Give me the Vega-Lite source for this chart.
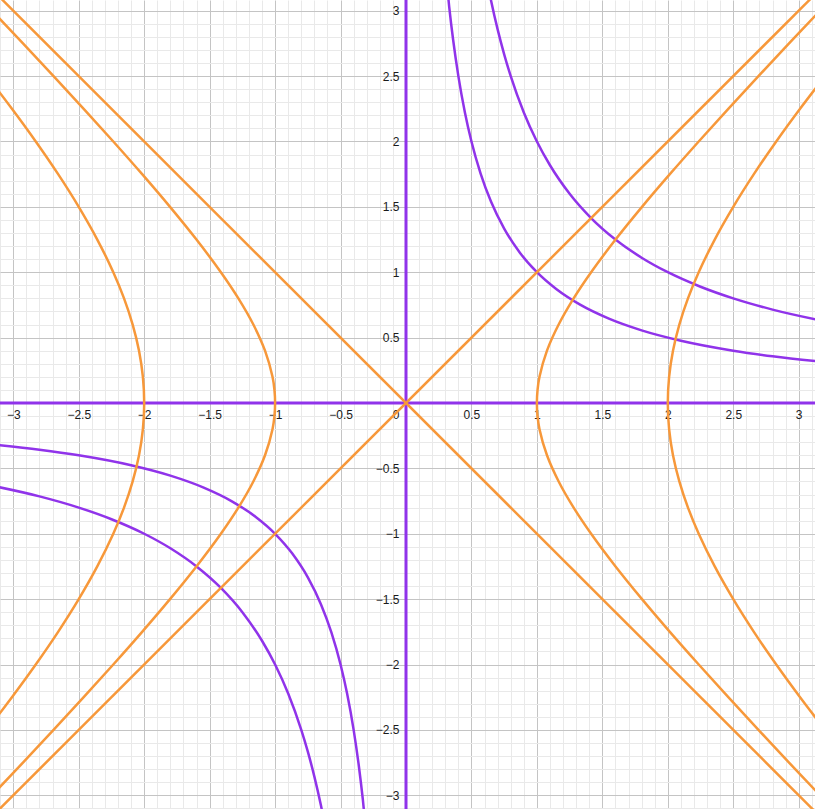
{
  "$schema": "https://vega.github.io/schema/vega-lite/v6.json",
  "width": 815,
  "height": 809,
  "padding": 0,
  "autosize": "none",
  "background": "white",
  "config": {"view": {"stroke": null}},
  "datasets": {
    "axes": [{"v": 0}],
    "purple": [
      {"s": "xy1a", "x": 0.3, "y": 3.3333}, {"s": "xy1a", "x": 0.33, "y": 3.0303}, {"s": "xy1a", "x": 0.36, "y": 2.7778}, {"s": "xy1a", "x": 0.4, "y": 2.5}, {"s": "xy1a", "x": 0.45, "y": 2.2222}, {"s": "xy1a", "x": 0.5, "y": 2}, {"s": "xy1a", "x": 0.57, "y": 1.7544}, {"s": "xy1a", "x": 0.65, "y": 1.5385}, {"s": "xy1a", "x": 0.75, "y": 1.3333}, {"s": "xy1a", "x": 0.87, "y": 1.1494}, {"s": "xy1a", "x": 1, "y": 1}, {"s": "xy1a", "x": 1.15, "y": 0.8696}, {"s": "xy1a", "x": 1.33, "y": 0.7519}, {"s": "xy1a", "x": 1.55, "y": 0.6452}, {"s": "xy1a", "x": 1.8, "y": 0.5556}, {"s": "xy1a", "x": 2.1, "y": 0.4762}, {"s": "xy1a", "x": 2.5, "y": 0.4}, {"s": "xy1a", "x": 2.8, "y": 0.3571}, {"s": "xy1a", "x": 3.2, "y": 0.3125},
      {"s": "xy1b", "x": -0.3, "y": -3.3333}, {"s": "xy1b", "x": -0.33, "y": -3.0303}, {"s": "xy1b", "x": -0.36, "y": -2.7778}, {"s": "xy1b", "x": -0.4, "y": -2.5}, {"s": "xy1b", "x": -0.45, "y": -2.2222}, {"s": "xy1b", "x": -0.5, "y": -2}, {"s": "xy1b", "x": -0.57, "y": -1.7544}, {"s": "xy1b", "x": -0.65, "y": -1.5385}, {"s": "xy1b", "x": -0.75, "y": -1.3333}, {"s": "xy1b", "x": -0.87, "y": -1.1494}, {"s": "xy1b", "x": -1, "y": -1}, {"s": "xy1b", "x": -1.15, "y": -0.8696}, {"s": "xy1b", "x": -1.33, "y": -0.7519}, {"s": "xy1b", "x": -1.55, "y": -0.6452}, {"s": "xy1b", "x": -1.8, "y": -0.5556}, {"s": "xy1b", "x": -2.1, "y": -0.4762}, {"s": "xy1b", "x": -2.5, "y": -0.4}, {"s": "xy1b", "x": -2.8, "y": -0.3571}, {"s": "xy1b", "x": -3.2, "y": -0.3125},
      {"s": "xy2a", "x": 0.6, "y": 3.3333}, {"s": "xy2a", "x": 0.62, "y": 3.2258}, {"s": "xy2a", "x": 0.65, "y": 3.0769}, {"s": "xy2a", "x": 0.7, "y": 2.8571}, {"s": "xy2a", "x": 0.75, "y": 2.6667}, {"s": "xy2a", "x": 0.8, "y": 2.5}, {"s": "xy2a", "x": 0.9, "y": 2.2222}, {"s": "xy2a", "x": 1, "y": 2}, {"s": "xy2a", "x": 1.1, "y": 1.8182}, {"s": "xy2a", "x": 1.25, "y": 1.6}, {"s": "xy2a", "x": 1.414, "y": 1.4144}, {"s": "xy2a", "x": 1.6, "y": 1.25}, {"s": "xy2a", "x": 1.8, "y": 1.1111}, {"s": "xy2a", "x": 2, "y": 1}, {"s": "xy2a", "x": 2.25, "y": 0.8889}, {"s": "xy2a", "x": 2.5, "y": 0.8}, {"s": "xy2a", "x": 2.8, "y": 0.7143}, {"s": "xy2a", "x": 3.2, "y": 0.625},
      {"s": "xy2b", "x": -0.6, "y": -3.3333}, {"s": "xy2b", "x": -0.62, "y": -3.2258}, {"s": "xy2b", "x": -0.65, "y": -3.0769}, {"s": "xy2b", "x": -0.7, "y": -2.8571}, {"s": "xy2b", "x": -0.75, "y": -2.6667}, {"s": "xy2b", "x": -0.8, "y": -2.5}, {"s": "xy2b", "x": -0.9, "y": -2.2222}, {"s": "xy2b", "x": -1, "y": -2}, {"s": "xy2b", "x": -1.1, "y": -1.8182}, {"s": "xy2b", "x": -1.25, "y": -1.6}, {"s": "xy2b", "x": -1.414, "y": -1.4144}, {"s": "xy2b", "x": -1.6, "y": -1.25}, {"s": "xy2b", "x": -1.8, "y": -1.1111}, {"s": "xy2b", "x": -2, "y": -1}, {"s": "xy2b", "x": -2.25, "y": -0.8889}, {"s": "xy2b", "x": -2.5, "y": -0.8}, {"s": "xy2b", "x": -2.8, "y": -0.7143}, {"s": "xy2b", "x": -3.2, "y": -0.625}
    ],
    "orange": [
      {"s": "l1", "x": -3.3, "y": -3.3}, {"s": "l1", "x": 3.3, "y": 3.3},
      {"s": "l2", "x": 3.3, "y": -3.3}, {"s": "l2", "x": -3.3, "y": 3.3},
      {"s": "h1r", "x": 3.3526, "y": -3.2}, {"s": "h1r", "x": 3.1623, "y": -3}, {"s": "h1r", "x": 2.9262, "y": -2.75}, {"s": "h1r", "x": 2.6926, "y": -2.5}, {"s": "h1r", "x": 2.4622, "y": -2.25}, {"s": "h1r", "x": 2.2361, "y": -2}, {"s": "h1r", "x": 2.0156, "y": -1.75}, {"s": "h1r", "x": 1.8028, "y": -1.5}, {"s": "h1r", "x": 1.6008, "y": -1.25}, {"s": "h1r", "x": 1.4142, "y": -1}, {"s": "h1r", "x": 1.2806, "y": -0.8}, {"s": "h1r", "x": 1.1662, "y": -0.6}, {"s": "h1r", "x": 1.077, "y": -0.4}, {"s": "h1r", "x": 1.0198, "y": -0.2}, {"s": "h1r", "x": 1.005, "y": -0.1}, {"s": "h1r", "x": 1, "y": 0}, {"s": "h1r", "x": 1.005, "y": 0.1}, {"s": "h1r", "x": 1.0198, "y": 0.2}, {"s": "h1r", "x": 1.077, "y": 0.4}, {"s": "h1r", "x": 1.1662, "y": 0.6}, {"s": "h1r", "x": 1.2806, "y": 0.8}, {"s": "h1r", "x": 1.4142, "y": 1}, {"s": "h1r", "x": 1.6008, "y": 1.25}, {"s": "h1r", "x": 1.8028, "y": 1.5}, {"s": "h1r", "x": 2.0156, "y": 1.75}, {"s": "h1r", "x": 2.2361, "y": 2}, {"s": "h1r", "x": 2.4622, "y": 2.25}, {"s": "h1r", "x": 2.6926, "y": 2.5}, {"s": "h1r", "x": 2.9262, "y": 2.75}, {"s": "h1r", "x": 3.1623, "y": 3}, {"s": "h1r", "x": 3.3526, "y": 3.2},
      {"s": "h1l", "x": -3.3526, "y": -3.2}, {"s": "h1l", "x": -3.1623, "y": -3}, {"s": "h1l", "x": -2.9262, "y": -2.75}, {"s": "h1l", "x": -2.6926, "y": -2.5}, {"s": "h1l", "x": -2.4622, "y": -2.25}, {"s": "h1l", "x": -2.2361, "y": -2}, {"s": "h1l", "x": -2.0156, "y": -1.75}, {"s": "h1l", "x": -1.8028, "y": -1.5}, {"s": "h1l", "x": -1.6008, "y": -1.25}, {"s": "h1l", "x": -1.4142, "y": -1}, {"s": "h1l", "x": -1.2806, "y": -0.8}, {"s": "h1l", "x": -1.1662, "y": -0.6}, {"s": "h1l", "x": -1.077, "y": -0.4}, {"s": "h1l", "x": -1.0198, "y": -0.2}, {"s": "h1l", "x": -1.005, "y": -0.1}, {"s": "h1l", "x": -1, "y": 0}, {"s": "h1l", "x": -1.005, "y": 0.1}, {"s": "h1l", "x": -1.0198, "y": 0.2}, {"s": "h1l", "x": -1.077, "y": 0.4}, {"s": "h1l", "x": -1.1662, "y": 0.6}, {"s": "h1l", "x": -1.2806, "y": 0.8}, {"s": "h1l", "x": -1.4142, "y": 1}, {"s": "h1l", "x": -1.6008, "y": 1.25}, {"s": "h1l", "x": -1.8028, "y": 1.5}, {"s": "h1l", "x": -2.0156, "y": 1.75}, {"s": "h1l", "x": -2.2361, "y": 2}, {"s": "h1l", "x": -2.4622, "y": 2.25}, {"s": "h1l", "x": -2.6926, "y": 2.5}, {"s": "h1l", "x": -2.9262, "y": 2.75}, {"s": "h1l", "x": -3.1623, "y": 3}, {"s": "h1l", "x": -3.3526, "y": 3.2},
      {"s": "h4r", "x": 3.2802, "y": -2.6}, {"s": "h4r", "x": 3.2016, "y": -2.5}, {"s": "h4r", "x": 3.0104, "y": -2.25}, {"s": "h4r", "x": 2.8284, "y": -2}, {"s": "h4r", "x": 2.6575, "y": -1.75}, {"s": "h4r", "x": 2.5, "y": -1.5}, {"s": "h4r", "x": 2.3585, "y": -1.25}, {"s": "h4r", "x": 2.2361, "y": -1}, {"s": "h4r", "x": 2.1541, "y": -0.8}, {"s": "h4r", "x": 2.0881, "y": -0.6}, {"s": "h4r", "x": 2.0396, "y": -0.4}, {"s": "h4r", "x": 2.01, "y": -0.2}, {"s": "h4r", "x": 2, "y": 0}, {"s": "h4r", "x": 2.01, "y": 0.2}, {"s": "h4r", "x": 2.0396, "y": 0.4}, {"s": "h4r", "x": 2.0881, "y": 0.6}, {"s": "h4r", "x": 2.1541, "y": 0.8}, {"s": "h4r", "x": 2.2361, "y": 1}, {"s": "h4r", "x": 2.3585, "y": 1.25}, {"s": "h4r", "x": 2.5, "y": 1.5}, {"s": "h4r", "x": 2.6575, "y": 1.75}, {"s": "h4r", "x": 2.8284, "y": 2}, {"s": "h4r", "x": 3.0104, "y": 2.25}, {"s": "h4r", "x": 3.2016, "y": 2.5}, {"s": "h4r", "x": 3.2802, "y": 2.6},
      {"s": "h4l", "x": -3.2802, "y": -2.6}, {"s": "h4l", "x": -3.2016, "y": -2.5}, {"s": "h4l", "x": -3.0104, "y": -2.25}, {"s": "h4l", "x": -2.8284, "y": -2}, {"s": "h4l", "x": -2.6575, "y": -1.75}, {"s": "h4l", "x": -2.5, "y": -1.5}, {"s": "h4l", "x": -2.3585, "y": -1.25}, {"s": "h4l", "x": -2.2361, "y": -1}, {"s": "h4l", "x": -2.1541, "y": -0.8}, {"s": "h4l", "x": -2.0881, "y": -0.6}, {"s": "h4l", "x": -2.0396, "y": -0.4}, {"s": "h4l", "x": -2.01, "y": -0.2}, {"s": "h4l", "x": -2, "y": 0}, {"s": "h4l", "x": -2.01, "y": 0.2}, {"s": "h4l", "x": -2.0396, "y": 0.4}, {"s": "h4l", "x": -2.0881, "y": 0.6}, {"s": "h4l", "x": -2.1541, "y": 0.8}, {"s": "h4l", "x": -2.2361, "y": 1}, {"s": "h4l", "x": -2.3585, "y": 1.25}, {"s": "h4l", "x": -2.5, "y": 1.5}, {"s": "h4l", "x": -2.6575, "y": 1.75}, {"s": "h4l", "x": -2.8284, "y": 2}, {"s": "h4l", "x": -3.0104, "y": 2.25}, {"s": "h4l", "x": -3.2016, "y": 2.5}, {"s": "h4l", "x": -3.2802, "y": 2.6}
    ]
  },
  "resolve": {"axis": {"x": "independent", "y": "independent"}},
  "layer": [
    {
      "data": {"name": "axes"},
      "mark": {"type": "rule", "strokeWidth": 3, "color": "#9033ea"},
      "encoding": {
        "x": {"field": "v", "type": "quantitative", "scale": {"domain": [-3.1016, 3.1245], "nice": false, "zero": false},
          "axis": {"orient": "bottom", "offset": -406, "title": null, "ticks": false, "domain": false, "grid": true, "gridColor": "#c4c4c4", "gridWidth": 1, "zindex": 0,
            "values": [-3,-2.5,-2,-1.5,-1,-0.5,0,0.5,1,1.5,2,2.5,3],
            "format": "~g", "labelExpr": "replace(datum.label, '-', '\u2212')",
            "labelFont": "Liberation Sans", "labelFontSize": 12, "labelColor": "#1a1a1a", "labelPadding": 6,
            "labelOverlap": false, "labelFlush": false,
            "labelAlign": {"condition": {"test": "datum.value === 0", "value": "right"}, "value": "center"},
            "labelOffset": {"condition": {"test": "datum.value === 0", "value": -7}, "value": 0}}}
      }
    },
    {
      "data": {"name": "axes"},
      "mark": {"type": "rule", "strokeWidth": 3, "color": "#9033ea"},
      "encoding": {
        "y": {"field": "v", "type": "quantitative", "scale": {"domain": [-3.105, 3.082], "nice": false, "zero": false},
          "axis": {"orient": "left", "offset": -406, "title": null, "ticks": false, "domain": false, "grid": true, "gridColor": "#c4c4c4", "gridWidth": 1, "zindex": 0,
            "values": [-3,-2.5,-2,-1.5,-1,-0.5,0.5,1,1.5,2,2.5,3],
            "format": "~g", "labelExpr": "replace(datum.label, '-', '\u2212')",
            "labelFont": "Liberation Sans", "labelFontSize": 12, "labelColor": "#1a1a1a", "labelPadding": 7,
            "labelOverlap": false, "labelFlush": false}}
      }
    },
    {
      "data": {"name": "purple"},
      "mark": {"type": "line", "clip": true, "interpolate": "monotone", "strokeWidth": 2.5, "color": "#9033ea"},
      "encoding": {
        "x": {"field": "x", "type": "quantitative", "scale": {"domain": [-3.1016, 3.1245], "nice": false, "zero": false},
          "axis": {"orient": "bottom", "title": null, "labels": false, "ticks": false, "domain": false, "grid": true, "gridColor": "#e9e9e9", "gridWidth": 1, "zindex": 0,
            "values": [-3.1,-2.9,-2.8,-2.7,-2.6,-2.4,-2.3,-2.2,-2.1,-1.9,-1.8,-1.7,-1.6,-1.4,-1.3,-1.2,-1.1,-0.9,-0.8,-0.7,-0.6,-0.4,-0.3,-0.2,-0.1,0.1,0.2,0.3,0.4,0.6,0.7,0.8,0.9,1.1,1.2,1.3,1.4,1.6,1.7,1.8,1.9,2.1,2.2,2.3,2.4,2.6,2.7,2.8,2.9,3.1]}},
        "y": {"field": "y", "type": "quantitative", "scale": {"domain": [-3.105, 3.082], "nice": false, "zero": false},
          "axis": {"orient": "left", "title": null, "labels": false, "ticks": false, "domain": false, "grid": true, "gridColor": "#e9e9e9", "gridWidth": 1, "zindex": 0,
            "values": [-3.1,-2.9,-2.8,-2.7,-2.6,-2.4,-2.3,-2.2,-2.1,-1.9,-1.8,-1.7,-1.6,-1.4,-1.3,-1.2,-1.1,-0.9,-0.8,-0.7,-0.6,-0.4,-0.3,-0.2,-0.1,0.1,0.2,0.3,0.4,0.6,0.7,0.8,0.9,1.1,1.2,1.3,1.4,1.6,1.7,1.8,1.9,2.1,2.2,2.3,2.4,2.6,2.7,2.8,2.9,3.1]}},
        "detail": {"field": "s", "type": "nominal"},
        "order": {"field": "x", "type": "quantitative"}
      }
    },
    {
      "data": {"name": "orange"},
      "mark": {"type": "line", "clip": true, "interpolate": "catmull-rom", "strokeWidth": 2.5, "color": "#f7983a"},
      "encoding": {
        "x": {"field": "x", "type": "quantitative", "scale": {"domain": [-3.1016, 3.1245], "nice": false, "zero": false}, "axis": null},
        "y": {"field": "y", "type": "quantitative", "scale": {"domain": [-3.105, 3.082], "nice": false, "zero": false}, "axis": null},
        "detail": {"field": "s", "type": "nominal"},
        "order": {"field": "y", "type": "quantitative"}
      }
    }
  ]
}
